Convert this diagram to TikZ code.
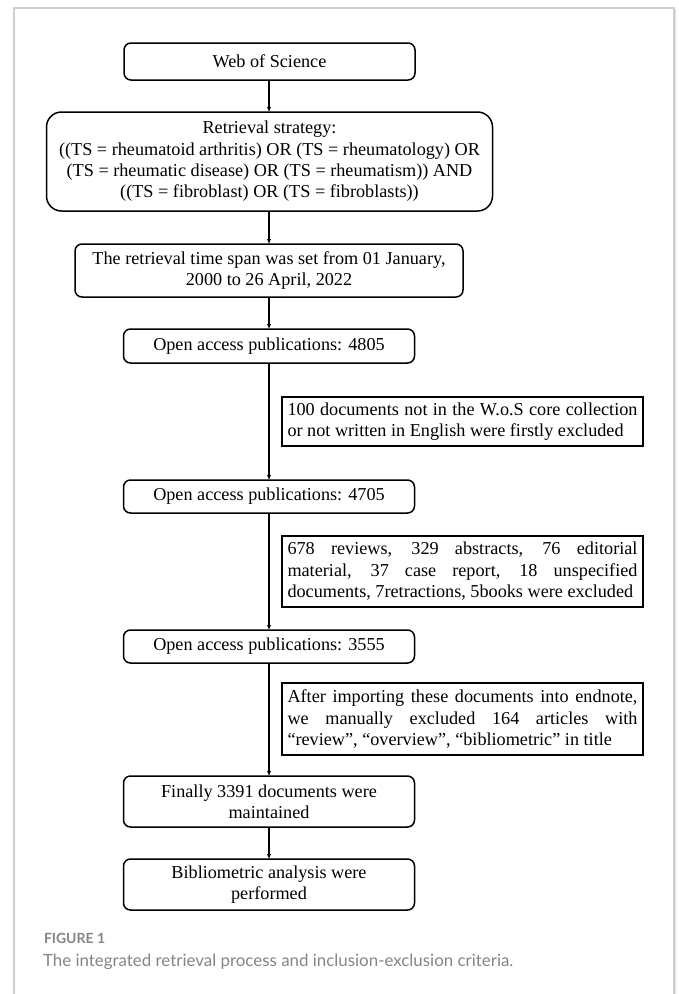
\documentclass[tikz,border=0pt]{standalone}
\usepackage{fontspec}
\setmainfont{Liberation Serif}
\newfontfamily\capfont{Lato}
\usetikzlibrary{arrows.meta}
\definecolor{capgray}{HTML}{858585}
\definecolor{framegray}{HTML}{CFCFCF}
\begin{document}
\begin{tikzpicture}[x=1pt,y=-1pt,
  every node/.style={inner sep=0pt,outer sep=0pt},
  rbox/.style={draw,line width=1.5pt,rounded corners=7pt,align=center,
     font=\fontsize{18.2}{21.3}\selectfont},
  ebox/.style={draw,line width=1.5pt,align=left,minimum width=361pt,
     font=\fontsize{18.2}{21.5}\selectfont},
  flow/.style={line width=1.1pt,-{Latex[length=5pt,width=4.5pt]}},
  plain/.style={line width=1.1pt}]
\useasboundingbox (0,0) rectangle (678,994);
\fill[white] (0,0) rectangle (678,994);
\draw[framegray,line width=1.2pt] (14,1000) -- (14,8) -- (674,8) -- (674,1000);
\draw[framegray!60,line width=1pt] (675.5,9) -- (675.5,1000);

\node[rbox,minimum width=291pt,minimum height=37pt] (wos) at (269.5,61.5) {Web of Science};
\node[rbox,rounded corners=15pt,minimum width=446pt,minimum height=99pt] (ret) at (269.5,161.5)
 {Retrieval strategy:\\((TS = rheumatoid arthritis) OR (TS = rheumatology) OR\\(TS = rheumatic disease) OR (TS = rheumatism)) AND\\((TS = fibroblast) OR (TS = fibroblasts))};
\node[rbox,minimum width=388pt,minimum height=53pt] (span) at (269,270.5)
 {The retrieval time span was set from 01 January,\\2000 to 26 April, 2022};
\node[rbox,minimum width=291pt,minimum height=34pt] (p1) at (269,346) {Open access publications: 4805};
\node[ebox,minimum height=49pt] (ex1) at (462.5,421.5)
 {\makebox[350pt][s]{100 documents not in the W.o.S core collection}\\or not written in English were firstly excluded};
\node[rbox,minimum width=291pt,minimum height=33pt] (p2) at (269,496.5) {Open access publications: 4705};
\node[ebox,minimum height=71pt] (ex2) at (462.5,571.5)
 {\makebox[350pt][s]{678 reviews, 329 abstracts, 76 editorial}\\\makebox[350pt][s]{material, 37 case report, 18 unspecified}\\documents, 7retractions, 5books were excluded};
\node[rbox,minimum width=291pt,minimum height=33pt] (p3) at (269,646.5) {Open access publications: 3555};
\node[ebox,minimum height=72pt] (ex3) at (462.5,719)
 {\makebox[350pt][s]{After importing these documents into endnote,}\\\makebox[350pt][s]{we manually excluded 164 articles with}\\``review'', ``overview'', ``bibliometric'' in title};
\node[rbox,minimum width=291pt,minimum height=51pt] (fin) at (269,801.5) {Finally 3391 documents were\\maintained};
\node[rbox,minimum width=291pt,minimum height=51pt] (bib) at (269,884.5) {Bibliometric analysis were\\performed};

\draw[flow] (wos.south -| 269,0) -- (ret.north -| 269,0);
\draw[flow] (ret.south -| 269,0) -- (span.north -| 269,0);
\draw[flow] (span.south -| 269,0) -- (p1.north -| 269,0);
\draw[flow] (p1.south -| 269,0) -- (p2.north -| 269,0);
\draw[flow] (p2.south -| 269,0) -- (p3.north -| 269,0);
\draw[flow] (p3.south -| 269,0) -- (fin.north -| 269,0);
\draw[flow] (fin.south -| 269,0) -- (bib.north -| 269,0);

\node[anchor=west,text=capgray,font=\capfont\bfseries\fontsize{14}{16}\selectfont] (figlab) at (44,938) {FIGURE 1};
\node[anchor=west,text=capgray,font=\capfont\fontsize{16.9}{19}\selectfont] (cap) at (43,962) {The integrated retrieval process and inclusion-exclusion criteria.};
\end{tikzpicture}
\end{document}
